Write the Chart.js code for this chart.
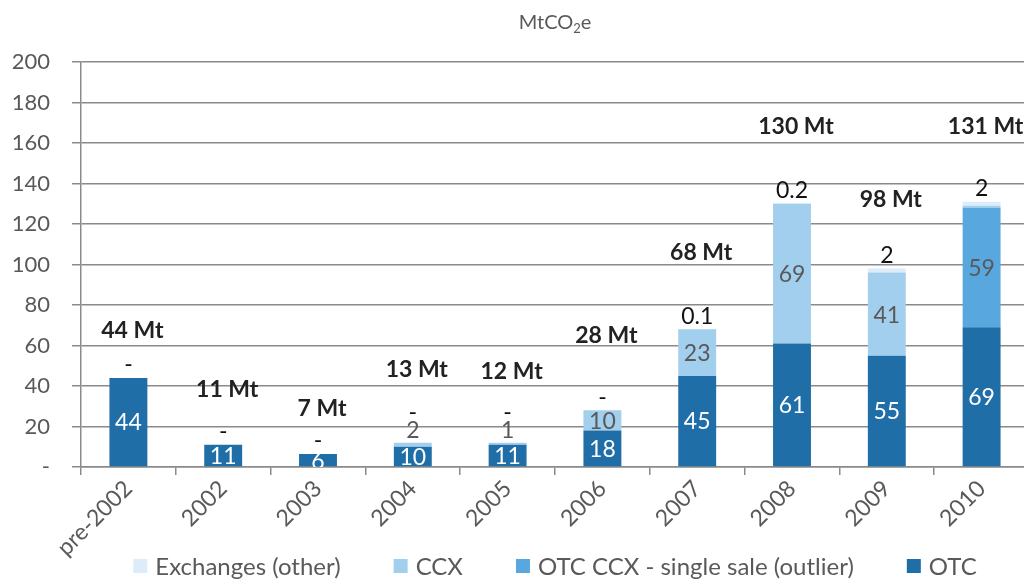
<!DOCTYPE html>
<html>
<head>
<meta charset="utf-8">
<script src="https://cdn.jsdelivr.net/npm/chart.js@4"></script>
<style>
  html, body { margin: 0; padding: 0; overflow: hidden; background: #fff; }
  #wrap { width: 1029px; height: 580px; }
</style>
</head>
<body>
<div id="wrap"><canvas id="canvas"></canvas></div>
<script>
'use strict';

var years = ['pre-2002', '2002', '2003', '2004', '2005', '2006', '2007', '2008', '2009', '2010'];
var otc = [44, 11, 6.4, 10, 11, 18, 45, 61, 55, 69];
var otcCcx = [0, 0, 0, 0, 0, 0, 0, 0, 0, 59];
var ccx = [0, 0, 0, 2, 1, 10, 23, 69, 41, 1];
var exchanges = [0, 0, 0, 0, 0, 0, 0.1, 0.2, 2, 2];
var totalMt = [44, 11, 7, 13, 12, 28, 68, 130, 98, 131];
var yTicks = [0, 20, 40, 60, 80, 100, 120, 140, 160, 180, 200];

var gray = '#595959';
var gridGray = '#8a8a8a';
var fontName = 'Lato, Carlito, "Open Sans", sans-serif';

// how far above the stack the "xx Mt" total sits, in MtCO2e
var totalLift = [23.5, 27, 22, 35, 35, 37, 38, 38, 34, 37];

function fmt(v) {
  if (v === 0) return '-';
  if (v < 1) return String(v);
  return String(Math.round(v));
}

var barLabels = {
  id: 'barLabels',
  afterDatasetsDraw: function (chart) {
    var ctx = chart.ctx;
    var area = chart.chartArea;
    var yScale = chart.scales.y;
    var mOtc = chart.getDatasetMeta(0);
    var mOut = chart.getDatasetMeta(1);
    var mCcx = chart.getDatasetMeta(2);
    var mExc = chart.getDatasetMeta(3);

    ctx.save();
    ctx.textAlign = 'center';
    ctx.textBaseline = 'middle';

    for (var i = 0; i < years.length; i++) {
      var x = mOtc.data[i].x;
      var top = mExc.data[i].y;

      // OTC, white inside the bar (clipped at the axis)
      ctx.save();
      ctx.beginPath();
      ctx.rect(area.left, area.top, area.right - area.left, area.bottom - area.top);
      ctx.clip();
      ctx.font = '23px ' + fontName;
      ctx.fillStyle = '#ffffff';
      var e = mOtc.data[i];
      ctx.fillText(fmt(otc[i]), x, (e.y + e.base) / 2 + 1);
      ctx.restore();

      // single outlier sale
      if (otcCcx[i] > 0) {
        e = mOut.data[i];
        ctx.font = '23px ' + fontName;
        ctx.fillStyle = gray;
        ctx.fillText(fmt(otcCcx[i]), x, (e.y + e.base) / 2 + 1);
      }

      // CCX: inside if there is room, else just above the bar
      var ccxOutside = false;
      if (ccx[i] > 0 && otcCcx[i] === 0) {
        e = mCcx.data[i];
        ctx.font = '23px ' + fontName;
        ctx.fillStyle = gray;
        if (e.base - e.y >= 18) {
          ctx.fillText(fmt(ccx[i]), x, (e.y + e.base) / 2 + 1);
        } else {
          ctx.fillText(fmt(ccx[i]), x, top - 12);
          ccxOutside = true;
        }
      }

      // exchanges (other), black above the stack
      ctx.font = '23px ' + fontName;
      ctx.fillStyle = '#111111';
      ctx.fillText(fmt(exchanges[i]), x, ccxOutside ? top - 30 : top - 13);

      // totals
      ctx.font = 'bold 23px ' + fontName;
      ctx.fillStyle = '#222222';
      ctx.fillText(totalMt[i] + ' Mt', x + 4, yScale.getPixelForValue(totalMt[i] + totalLift[i]));
    }
    ctx.restore();
  }
};

var unitAndLegend = {
  id: 'unitAndLegend',
  afterDraw: function (chart) {
    var ctx = chart.ctx;
    var area = chart.chartArea;
    var mid = (area.left + area.right) / 2;
    ctx.save();

    // unit line: MtCO2e with subscript 2
    ctx.fillStyle = gray;
    ctx.textBaseline = 'alphabetic';
    ctx.textAlign = 'left';
    var big = '20px ' + fontName;
    var small = '13px ' + fontName;
    ctx.font = big;
    var w1 = ctx.measureText('MtCO').width;
    var w3 = ctx.measureText('e').width;
    ctx.font = small;
    var w2 = ctx.measureText('2').width;
    var sx = mid - (w1 + w2 + w3) / 2;
    ctx.font = big;
    ctx.fillText('MtCO', sx, 29);
    ctx.font = small;
    ctx.fillText('2', sx + w1, 33);
    ctx.font = big;
    ctx.fillText('e', sx + w1 + w2, 29);

    // legend, reversed series order
    var order = [3, 2, 1, 0];
    var box = 14;
    var gap = 8;
    var between = 53;
    ctx.font = '24px ' + fontName;
    var total = 0;
    order.forEach(function (d, k) {
      total += box + gap + ctx.measureText(chart.data.datasets[d].label).width;
      if (k < order.length - 1) total += between;
    });
    var lx = mid - total / 2;
    var ly = 566;
    ctx.textBaseline = 'middle';
    order.forEach(function (d) {
      var ds = chart.data.datasets[d];
      ctx.fillStyle = ds.backgroundColor;
      ctx.fillRect(lx, ly - box / 2, box, box);
      lx += box + gap;
      ctx.fillStyle = gray;
      ctx.fillText(ds.label, lx, ly + 1);
      lx += ctx.measureText(ds.label).width + between;
    });
    ctx.restore();
  }
};

var canvas = document.getElementById('canvas');
var ctx = canvas.getContext('2d');

var chartStuff = {
  type: 'bar',
  data: {
    labels: years,
    datasets: [{
      label: 'OTC',
      data: otc,
      backgroundColor: '#1f6ea8'
    }, {
      label: 'OTC CCX - single sale (outlier)',
      data: otcCcx,
      backgroundColor: '#58a8df'
    }, {
      label: 'CCX',
      data: ccx,
      backgroundColor: '#a3cfee'
    }, {
      label: 'Exchanges (other)',
      data: exchanges,
      backgroundColor: '#dcedf9'
    }]
  },
  options: {
    responsive: true,
    maintainAspectRatio: false,
    animation: false,
    layout: {
      padding: { top: 62, left: 0, right: 0, bottom: 0 }
    },
    datasets: {
      bar: {
        categoryPercentage: 0.8,
        barPercentage: 0.5,
        borderWidth: 0
      }
    },
    plugins: {
      legend: { display: false },
      title: { display: false },
      tooltip: { enabled: false }
    },
    scales: {
      x: {
        stacked: true,
        afterFit: function (axis) { axis.height = 113; },
        grid: {
          display: true,
          drawOnChartArea: false,
          drawTicks: true,
          tickLength: 8,
          offset: true,
          color: gridGray,
          lineWidth: 1.5
        },
        border: { display: true, color: gridGray, width: 1.5 },
        ticks: {
          color: gray,
          font: { family: fontName, size: 23 },
          minRotation: 45,
          maxRotation: 45,
          autoSkip: false,
          padding: 0
        }
      },
      y: {
        stacked: true,
        min: 0,
        max: 200,
        afterFit: function (axis) { axis.width = 81; },
        afterBuildTicks: function (axis) {
          axis.ticks = yTicks.map(function (v) { return { value: v }; });
        },
        grid: {
          color: gridGray,
          lineWidth: 1.5,
          drawTicks: true,
          tickLength: 9
        },
        border: { display: true, color: gridGray, width: 1.5 },
        ticks: {
          color: gray,
          font: { family: fontName, size: 22 },
          padding: 22,
          callback: function (v) { return v === 0 ? '-' : v; }
        }
      }
    }
  },
  plugins: [barLabels, unitAndLegend]
};

var barChart = new Chart(ctx, chartStuff);
</script>
</body>
</html>
